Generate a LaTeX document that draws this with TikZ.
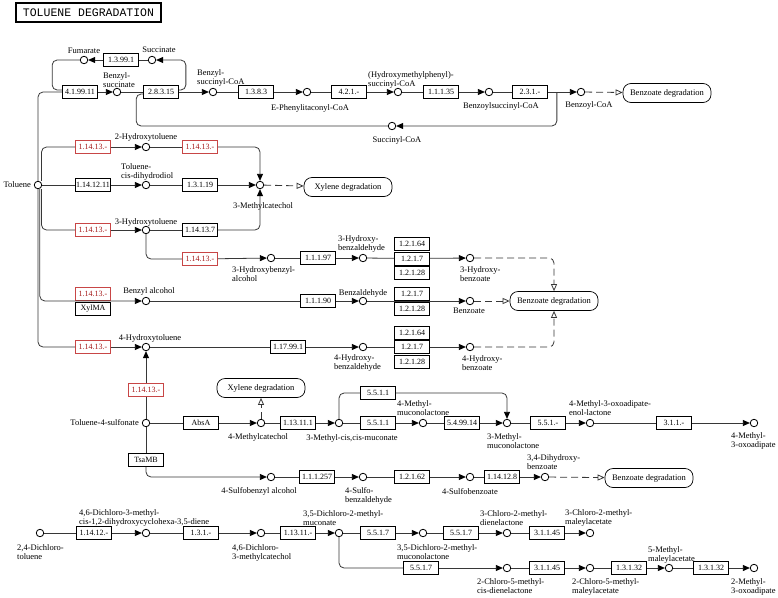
\documentclass[tikz,border=0pt]{standalone}
\usepackage{fontspec}
\setmainfont{Liberation Serif}
\newfontfamily\ttlfont{Liberation Mono}
\usetikzlibrary{arrows.meta}
\definecolor{kred}{RGB}{200,70,70}
\definecolor{kredtxt}{RGB}{165,25,25}
\definecolor{kline}{RGB}{55,55,55}

\begin{document}
\begin{tikzpicture}[x=1pt,y=-1pt,
  cpd/.style  ={circle, draw=black, fill=white, line width=0.8pt, inner sep=0pt, minimum size=7.5pt},
  ec/.style   ={draw=black, fill=white, line width=0.7pt, inner sep=0.5pt, minimum width=35pt, minimum height=13pt, font=\fontsize{8}{9}\selectfont},
  ecred/.style={ec, draw=kred, text=kredtxt},
  pmap/.style ={draw=black, fill=white, line width=0.7pt, rounded corners=8pt, minimum width=88pt, minimum height=19pt, inner sep=2pt, font=\fontsize{8.5}{9}\selectfont},
  lbl/.style  ={font=\fontsize{8.5}{9}\selectfont, inner sep=0pt, align=left},
  rx/.style   ={draw=kline, line width=0.8pt},
  fwd/.style  ={rx, -{Triangle[length=7pt,width=6pt,color=black]}},
  lnk/.style  ={rx, dash pattern=on 7pt off 4pt, -{Triangle[open,length=7pt,width=6pt]}}]

  \useasboundingbox (0,0) rectangle (778,597);

  % ---------------- title ----------------
  \node[draw=black, line width=1.5pt, minimum width=145pt, minimum height=19pt, inner sep=0pt,
        font=\ttlfont\fontsize{11.5}{12}\selectfont] (title) at (88.5,12.5) {TOLUENE DEGRADATION};

  % ---------------- benzylsuccinate route ----------------
  \node[cpd] (fum)    at (84,60)  {};  \node[lbl] (lfum)  at (84,51)  {Fumarate};
  \node[ec]  (e13991) at (121,60) {1.3.99.1};
  \node[cpd] (succ)   at (152,60) {};  \node[lbl] (lsucc) at (159,50) {Succinate};
  \node[ec]  (e41)    at (80,92)  {4.1.99.11};
  \node[cpd] (bzsuc)  at (117,92) {};  \node[lbl,anchor=west] (lbzsuc) at (103,80.5) {Benzyl-\\succinate};
  \node[ec]  (e2831)  at (161,92) {2.8.3.15};
  \node[cpd] (bzscoa) at (213,92) {};  \node[lbl,anchor=west] (lbzscoa) at (197,77.5) {Benzyl-\\succinyl-CoA};
  \node[ec]  (e1383)  at (256,92) {1.3.8.3};
  \node[cpd] (epcoa)  at (307,92) {};  \node[lbl] (lepcoa) at (310,108) {E-Phenylitaconyl-CoA};
  \node[ec]  (e421)   at (349,92) {4.2.1.-};
  \node[cpd] (hmpcoa) at (398,92) {};  \node[lbl,anchor=west] (lhmpcoa) at (368,79.5) {(Hydroxymethylphenyl)-\\succinyl-CoA};
  \node[ec]  (e11135) at (441,92) {1.1.1.35};
  \node[cpd] (bylcoa) at (489,92) {};  \node[lbl] (lbylcoa) at (501,106) {Benzoylsuccinyl-CoA};
  \node[ec]  (e231)   at (530,92) {2.3.1.-};
  \node[cpd] (bzcoa)  at (581,92) {};  \node[lbl] (lbzcoa) at (589,105) {Benzoyl-CoA};
  \node[pmap] (bzdeg1) at (667,93) {Benzoate degradation};
  \node[cpd] (sucoa)  at (392,126) {}; \node[lbl] (lsucoa) at (397,140) {Succinyl-CoA};

  \draw[rx] (succ) -- (e13991);  \draw[fwd] (e13991) -- (fum);
  \draw[rx, rounded corners=5pt] (fum) -| ([xshift=-10pt,yshift=2pt]e41.west) -- ([yshift=2pt]e41.west);
  \draw[fwd, rounded corners=5pt] ([yshift=2pt]e2831.east) -- ++(7,0) |- (succ);
  \draw[fwd] (e41) -- (bzsuc);      \draw[rx] (bzsuc) -- (e2831);
  \draw[fwd] (e2831) -- (bzscoa);   \draw[rx] (bzscoa) -- (e1383);
  \draw[fwd] (e1383) -- (epcoa);    \draw[rx] (epcoa) -- (e421);
  \draw[fwd] (e421) -- (hmpcoa);    \draw[rx] (hmpcoa) -- (e11135);
  \draw[fwd] (e11135) -- (bylcoa);  \draw[rx] (bylcoa) -- (e231);
  \draw[fwd] (e231) -- (bzcoa);     \draw[lnk] (bzcoa) -- (bzdeg1);
  \draw[fwd, rounded corners=5pt] ([xshift=9pt]e231.east) |- (sucoa);
  \draw[rx, rounded corners=5pt] (sucoa) -| ([xshift=-7pt,yshift=-2pt]e2831.west) -- ([yshift=-2pt]e2831.west);

  % ---------------- toluene and its monooxygenase branches ----------------
  \node[cpd] (tol) at (38,185) {};  \node[lbl,anchor=east] (ltol) at (31,185) {Toluene};

  \node[ecred] (r1a) at (93,147)  {1.14.13.-};
  \node[cpd]   (oh2t) at (146,147) {};  \node[lbl] (loh2t) at (146,137) {2-Hydroxytoluene};
  \node[ecred] (r1b) at (200,147) {1.14.13.-};

  \node[ec]  (e1141211) at (93,185) {1.14.12.11};
  \node[cpd] (tcd) at (146,185) {};  \node[lbl,anchor=west] (ltcd) at (121,171.5) {Toluene-\\cis-dihydrodiol};
  \node[ec]  (e13119) at (200,185) {1.3.1.19};
  \node[cpd] (mcat) at (260,185) {};  \node[lbl] (lmcat) at (263,206) {3-Methylcatechol};
  \node[pmap] (xyl1) at (348,187) {Xylene degradation};

  \node[ecred] (r2a) at (93,230) {1.14.13.-};
  \node[cpd] (oh3t) at (146,230) {};  \node[lbl] (loh3t) at (146,222) {3-Hydroxytoluene};
  \node[ec]  (e114137) at (200,230) {1.14.13.7};
  \node[ecred] (r2b) at (200,259) {1.14.13.-};
  \node[cpd] (ohbal) at (271,258) {};  \node[lbl,anchor=west] (lohbal) at (232,274.5) {3-Hydroxybenzyl-\\alcohol};
  \node[ec]  (e11197) at (318,258) {1.1.1.97};
  \node[cpd] (ohbzal3) at (363,258) {};  \node[lbl,anchor=west] (lohbzal3) at (338,243.5) {3-Hydroxy-\\benzaldehyde};
  \node[ec]  (e12164a) at (412,244)   {1.2.1.64};
  \node[ec]  (e1217a)  at (412,258.5) {1.2.1.7};
  \node[ec]  (e12128a) at (412,273)   {1.2.1.28};
  \node[cpd] (ohbz3) at (470,258) {};  \node[lbl,anchor=west] (lohbz3) at (460,274) {3-Hydroxy-\\benzoate};

  \node[ecred] (r3) at (93,293.5) {1.14.13.-};
  \node[ec]  (xylma) at (93,308.5) {XylMA};
  \node[cpd] (bzalc) at (146,301) {};  \node[lbl] (lbzalc) at (149,291) {Benzyl alcohol};
  \node[ec]  (e11190) at (318,301) {1.1.1.90};
  \node[cpd] (bzal) at (363,301) {};  \node[lbl] (lbzal) at (363,293) {Benzaldehyde};
  \node[ec]  (e1217b)  at (412,293.5) {1.2.1.7};
  \node[ec]  (e12128b) at (412,308.5) {1.2.1.28};
  \node[cpd] (bzo) at (470,301) {};  \node[lbl] (lbzo) at (469,311) {Benzoate};
  \node[pmap] (bzdeg2) at (554,301) {Benzoate degradation};

  \node[ecred] (r4) at (93,347) {1.14.13.-};
  \node[cpd] (oh4t) at (146,347) {};  \node[lbl] (loh4t) at (150,338) {4-Hydroxytoluene};
  \node[ec]  (e117991) at (288,347) {1.17.99.1};
  \node[cpd] (ohbzal4) at (363,347) {};  \node[lbl,anchor=west] (lohbzal4) at (334,362.5) {4-Hydroxy-\\benzaldehyde};
  \node[ec]  (e12164c) at (412,332.5) {1.2.1.64};
  \node[ec]  (e1217c)  at (412,347)   {1.2.1.7};
  \node[ec]  (e12128c) at (412,361.5) {1.2.1.28};
  \node[cpd] (ohbz4) at (470,347) {};  \node[lbl,anchor=west] (lohbz4) at (462,363.5) {4-Hydroxy-\\benzoate};

  \draw[rx, rounded corners=5pt] (tol) |- (e41);
  \draw[rx, rounded corners=5pt] ([xshift=3.5pt]tol.north) |- (r1a);
  \draw[rx] (tol) -- (e1141211);
  \draw[rx, rounded corners=5pt] ([xshift=3.5pt]tol.south) |- (r2a);
  \draw[fwd, rounded corners=5pt] ([xshift=1.8pt]tol.south) |- (bzalc);
  \draw[rx, rounded corners=5pt] (tol) |- (r4);

  \draw[fwd] (r1a) -- (oh2t);  \draw[rx] (oh2t) -- (r1b);
  \draw[fwd, rounded corners=5pt] (r1b) -| (mcat);
  \draw[fwd] (e1141211) -- (tcd);  \draw[rx] (tcd) -- (e13119);  \draw[fwd] (e13119) -- (mcat);
  \draw[fwd] (r2a) -- (oh3t);  \draw[rx] (oh3t) -- (e114137);
  \draw[fwd, rounded corners=5pt] (e114137) -| (mcat);
  \draw[lnk] (mcat) -- (xyl1);

  \draw[rx, rounded corners=5pt] (oh3t) |- (r2b);
  \draw[fwd] (r2b) -- (ohbal);  \draw[rx] (ohbal) -- (e11197);
  \draw[fwd] (e11197) -- (ohbzal3);  \draw[rx] (ohbzal3) -- (e1217a);
  \draw[fwd] (e1217a) -- (ohbz3);
  \draw[lnk, rounded corners=5pt] (ohbz3) -| (bzdeg2);

  \draw[rx] (bzalc) -- (e11190);  \draw[fwd] (e11190) -- (bzal);
  \draw[fwd] (bzal) -- (bzo);  \draw[lnk] (bzo) -- (bzdeg2);

  \draw[fwd] (r4) -- (oh4t);  \draw[rx] (oh4t) -- (e117991);
  \draw[fwd] (e117991) -- (ohbzal4);  \draw[rx] (ohbzal4) -- (e1217c);
  \draw[fwd] (e1217c) -- (ohbz4);
  \draw[lnk, rounded corners=5pt] (ohbz4) -| (bzdeg2);

  % ---------------- toluene-4-sulfonate ----------------
  \node[cpd] (t4s) at (146,423) {};  \node[lbl,anchor=east] (lt4s) at (139,423) {Toluene-4-sulfonate};
  \node[ecred] (r5) at (146,390) {1.14.13.-};
  \node[ec]  (absa) at (201,423) {AbsA};
  \node[cpd] (mcat4) at (261,423) {};  \node[lbl] (lmcat4) at (258,437) {4-Methylcatechol};
  \node[pmap] (xyl2) at (261,388) {Xylene degradation};
  \node[ec]  (e131111) at (298,423) {1.13.11.1};
  \node[cpd] (mmuc) at (339,423) {};  \node[lbl] (lmmuc) at (352,438) {3-Methyl-cis,cis-muconate};
  \node[ec]  (e5511a) at (378,393) {5.5.1.1};
  \node[ec]  (e5511b) at (378,423) {5.5.1.1};
  \node[cpd] (mml4) at (423,423) {};  \node[lbl,anchor=west] (lmml4) at (397,408.5) {4-Methyl-\\muconolactone};
  \node[ec]  (e549914) at (462,423) {5.4.99.14};
  \node[cpd] (mml3) at (507,423) {};  \node[lbl,anchor=west] (lmml3) at (487,441.5) {3-Methyl-\\muconolactone};
  \node[ec]  (e551) at (548,423) {5.5.1.-};
  \node[cpd] (moel) at (590,423) {};  \node[lbl,anchor=west] (lmoel) at (569,408.5) {4-Methyl-3-oxoadipate-\\enol-lactone};
  \node[ec]  (e311) at (674,423) {3.1.1.-};
  \node[cpd] (mox) at (754,423) {};  \node[lbl,anchor=west] (lmox) at (731,440.5) {4-Methyl-\\3-oxoadipate};

  \node[ec]  (tsamb) at (146,460) {TsaMB};
  \node[cpd] (sba) at (271,477) {};  \node[lbl] (lsba) at (259,491) {4-Sulfobenzyl alcohol};
  \node[ec]  (e111257) at (317,477) {1.1.1.257};
  \node[cpd] (sbal) at (363,477) {};  \node[lbl,anchor=west] (lsbal) at (345,495.5) {4-Sulfo-\\benzaldehyde};
  \node[ec]  (e12162) at (412,477) {1.2.1.62};
  \node[cpd] (sbz) at (470,477) {};  \node[lbl] (lsbz) at (470,492) {4-Sulfobenzoate};
  \node[ec]  (e114128) at (502,477) {1.14.12.8};
  \node[cpd] (dhb) at (545,477) {};  \node[lbl,anchor=west] (ldhb) at (527,462) {3,4-Dihydroxy-\\benzoate};
  \node[pmap] (bzdeg3) at (649,478) {Benzoate degradation};

  \draw[rx] (t4s) -- (r5);  \draw[fwd] (r5) -- (oh4t);
  \draw[rx] (t4s) -- (absa);  \draw[fwd] (absa) -- (mcat4);  \draw[lnk] (mcat4) -- (xyl2);
  \draw[rx] (mcat4) -- (e131111);  \draw[fwd] (e131111) -- (mmuc);
  \draw[rx, rounded corners=5pt] (mmuc) |- (e5511a);
  \draw[fwd, rounded corners=5pt] (e5511a) -| (mml3);
  \draw[rx] (mmuc) -- (e5511b);  \draw[fwd] (e5511b) -- (mml4);
  \draw[rx] (mml4) -- (e549914);  \draw[fwd] (e549914) -- (mml3);
  \draw[rx] (mml3) -- (e551);  \draw[fwd] (e551) -- (moel);
  \draw[rx] (moel) -- (e311);  \draw[fwd] (e311) -- (mox);

  \draw[rx] (t4s) -- (tsamb);
  \draw[fwd, rounded corners=5pt] (tsamb) |- (sba);
  \draw[rx] (sba) -- (e111257);  \draw[fwd] (e111257) -- (sbal);
  \draw[rx] (sbal) -- (e12162);  \draw[fwd] (e12162) -- (sbz);
  \draw[rx] (sbz) -- (e114128);  \draw[fwd] (e114128) -- (dhb);
  \draw[lnk] (dhb) -- (bzdeg3);

  % ---------------- 2,4-dichlorotoluene ----------------
  \node[cpd] (dct) at (40,533) {};  \node[lbl,anchor=west] (ldct) at (17,552.5) {2,4-Dichloro-\\toluene};
  \node[ec]  (e11412) at (94,533) {1.14.12.-};
  \node[cpd] (dcd) at (146,533) {};  \node[lbl,anchor=west] (ldcd) at (79,517.5) {4,6-Dichloro-3-methyl-\\cis-1,2-dihydroxycyclohexa-3,5-diene};
  \node[ec]  (e131) at (201,533) {1.3.1.-};
  \node[cpd] (dcmc) at (261,533) {};  \node[lbl,anchor=west] (ldcmc) at (232,552.5) {4,6-Dichloro-\\3-methylcatechol};
  \node[ec]  (e13111) at (298,533) {1.13.11.-};
  \node[cpd] (dcmuc) at (339,533) {};  \node[lbl,anchor=west] (ldcmuc) at (303,518) {3,5-Dichloro-2-methyl-\\muconate};
  \node[ec]  (e5517a) at (378,533) {5.5.1.7};
  \node[cpd] (dcml) at (423,533) {};  \node[lbl,anchor=west] (ldcml) at (397,552) {3,5-Dichloro-2-methyl-\\muconolactone};
  \node[ec]  (e5517b) at (461,533) {5.5.1.7};
  \node[cpd] (cmdl) at (507,533) {};  \node[lbl,anchor=west] (lcmdl) at (480,518) {3-Chloro-2-methyl-\\dienelactone};
  \node[ec]  (e31145a) at (547,533) {3.1.1.45};
  \node[cpd] (cmma) at (590,533) {};  \node[lbl,anchor=west] (lcmma) at (565,518) {3-Chloro-2-methyl-\\maleylacetate};

  \node[ec]  (e5517c) at (421,568) {5.5.1.7};
  \node[cpd] (cmdl2) at (507,568) {};  \node[lbl,anchor=west] (lcmdl2) at (477,586.5) {2-Chloro-5-methyl-\\cis-dienelactone};
  \node[ec]  (e31145b) at (547,568) {3.1.1.45};
  \node[cpd] (cmma2) at (590,568) {};  \node[lbl,anchor=west] (lcmma2) at (572,586.5) {2-Chloro-5-methyl-\\maleylacetate};
  \node[ec]  (e13132a) at (629,568) {1.3.1.32};
  \node[cpd] (mma) at (669,568) {};  \node[lbl,anchor=west] (lmma) at (648,554.5) {5-Methyl-\\maleylacetate};
  \node[ec]  (e13132b) at (711,568) {1.3.1.32};
  \node[cpd] (mox2) at (754,568) {};  \node[lbl,anchor=west] (lmox2) at (731,586.5) {2-Methyl-\\3-oxoadipate};

  \draw[rx] (dct) -- (e11412);  \draw[fwd] (e11412) -- (dcd);
  \draw[rx] (dcd) -- (e131);  \draw[fwd] (e131) -- (dcmc);
  \draw[rx] (dcmc) -- (e13111);  \draw[fwd] (e13111) -- (dcmuc);
  \draw[rx] (dcmuc) -- (e5517a);  \draw[fwd] (e5517a) -- (dcml);
  \draw[rx] (dcml) -- (e5517b);  \draw[fwd] (e5517b) -- (cmdl);
  \draw[rx] (cmdl) -- (e31145a);  \draw[fwd] (e31145a) -- (cmma);
  \draw[rx, rounded corners=5pt] (dcmuc) |- (e5517c);
  \draw[fwd] (e5517c) -- (cmdl2);  \draw[rx] (cmdl2) -- (e31145b);
  \draw[fwd] (e31145b) -- (cmma2);  \draw[rx] (cmma2) -- (e13132a);
  \draw[fwd] (e13132a) -- (mma);  \draw[rx] (mma) -- (e13132b);
  \draw[fwd] (e13132b) -- (mox2);
\end{tikzpicture}
\end{document}
